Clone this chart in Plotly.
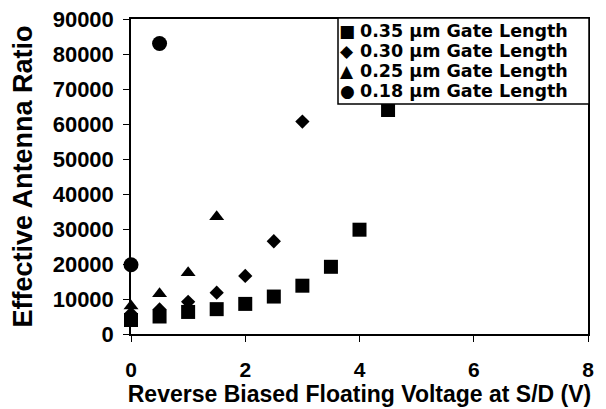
import plotly.graph_objects as go

# Data
x_035 = [0, 0.5, 1, 1.5, 2, 2.5, 3, 3.5, 4, 4.5]
y_035 = [4000, 5000, 6300, 7100, 8600, 10700, 13800, 19200, 29800, 64000]
x_030 = [0, 0.5, 1, 1.5, 2, 2.5, 3]
y_030 = [5800, 7000, 9200, 11800, 16600, 26500, 60700]
x_025 = [0, 0.5, 1, 1.5]
y_025 = [8000, 11500, 17500, 33500]
x_018 = [0, 0.5]
y_018 = [19800, 83000]

labels = ["0.35 \u03bcm Gate Length", "0.30 \u03bcm Gate Length",
          "0.25 \u03bcm Gate Length", "0.18 \u03bcm Gate Length"]
legend_glyphs = ["\u25a0", "\u25c6", "\u25b2", "\u25cf"]
x_ticks = [0, 2, 4, 6, 8]
y_ticks = list(range(0, 90001, 10000))

FONT = "Liberation Sans, Arial, sans-serif"
W, H = 606, 409
L, R, T, B = 131, 18, 19, 75
PW, PH = W - L - R, H - T - B

def px_x(px):
    return (px - L) / PW

def px_y(py):
    return (H - B - py) / PH

fig = go.Figure()
series = [(x_035, y_035, "square", 14), (x_030, y_030, "diamond", 11),
          (x_025, y_025, "triangle-up", 13), (x_018, y_018, "circle", 15)]
for (xs, ys, sym, sz), lab in zip(series, labels):
    fig.add_trace(go.Scatter(x=xs, y=ys, mode="markers", name=lab, cliponaxis=False,
                             marker=dict(symbol=sym, size=sz, color="black",
                                         line=dict(width=0))))

common = dict(ticks="outside", ticklen=6, tickwidth=1.2, tickcolor="black",
              showline=True, linecolor="black", linewidth=1.5, mirror=True,
              showgrid=False, zeroline=False, automargin=False)
fig.update_layout(
    width=W, height=H,
    margin=dict(l=L, r=R, t=T, b=B),
    paper_bgcolor="white", plot_bgcolor="white",
    showlegend=False,
    xaxis=dict(range=[0, 8], tickvals=x_ticks, ticktext=[str(v) for v in x_ticks],
               tickfont=dict(family=FONT, size=21, color="black", weight="bold"),
               ticklabelstandoff=10,
               title=dict(text="Reverse Biased Floating Voltage at S/D (V)",
                          font=dict(family=FONT, size=23, color="black", weight="bold"),
                          standoff=0), **common),
    yaxis=dict(range=[0, 90000], tickvals=y_ticks, ticktext=[str(v) for v in y_ticks],
               tickfont=dict(family=FONT, size=22, color="black", weight="bold"),
               ticklabelstandoff=5,
               title=dict(text="Effective Antenna Ratio",
                          font=dict(family=FONT, size=27, color="black", weight="bold"),
                          standoff=12),
               **common),
)

# legend box drawn as a framed white rectangle with one row per series
fig.add_shape(type="rect", xref="paper", yref="paper",
              x0=px_x(338), x1=px_x(589), y0=px_y(104), y1=px_y(18),
              fillcolor="white", line=dict(color="black", width=1.5), layer="above")
row_y = [31.5, 51.5, 71.5, 91.5]
for g, lab, ry in zip(legend_glyphs, labels, row_y):
    fig.add_annotation(xref="paper", yref="paper", x=px_x(347), y=px_y(ry),
                       text=g, showarrow=False, xanchor="center", yanchor="middle",
                       borderpad=0,
                       font=dict(family="DejaVu Sans", size=17, color="black"))
    fig.add_annotation(xref="paper", yref="paper", x=px_x(359), y=px_y(ry),
                       text=lab, showarrow=False, xanchor="left", yanchor="middle",
                       borderpad=0,
                       font=dict(family="DejaVu Sans", size=17.5, color="black",
                                 weight="bold"))

fig.write_html("out.html", config={"displayModeBar": False},
               post_script="document.body.style.margin='0';")
